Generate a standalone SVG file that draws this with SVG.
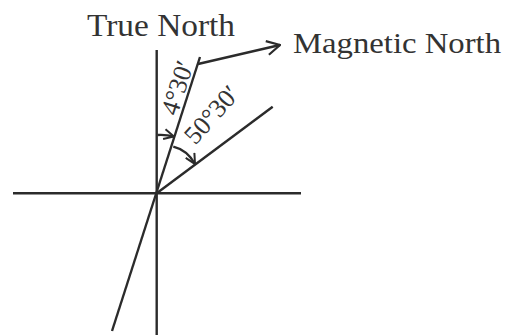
<svg xmlns="http://www.w3.org/2000/svg" width="507" height="335" viewBox="0 0 507 335">
<defs>
<style>
.ln{stroke:#2b2b2b;stroke-width:2.4;fill:none;stroke-linecap:butt}
.lbl{font-family:"Liberation Serif","DejaVu Serif",serif;fill:#333}
</style>
<marker id="arr" viewBox="0 0 12 12" refX="11" refY="6" markerWidth="12" markerHeight="12" markerUnits="userSpaceOnUse" orient="auto">
<path d="M1,1 L11,6 L1,11" fill="none" stroke="#2b2b2b" stroke-width="2"/>
</marker>
<marker id="arrL" viewBox="0 0 16 16" refX="15" refY="8" markerWidth="16" markerHeight="16" markerUnits="userSpaceOnUse" orient="auto">
<path d="M2,1 L15,8 L2,15" fill="none" stroke="#2b2b2b" stroke-width="2.2"/>
</marker>
</defs>
<rect width="507" height="335" fill="#fff"/>
<g id="connectors">
<line class="ln" x1="13" y1="193.3" x2="301" y2="193.3"/>
<line class="ln" x1="156.7" y1="50" x2="156.7" y2="335"/>
<line class="ln" x1="112" y1="331" x2="200" y2="57"/>
<line class="ln" x1="156.7" y1="193.3" x2="272.7" y2="106.7"/>
<line class="ln" x1="198" y1="64" x2="280" y2="45" marker-end="url(#arrL)"/>
<path class="ln" d="M157.5,135 Q166,134.5 174,136.5" marker-end="url(#arr)"/>
<path class="ln" d="M173.3,146.7 Q187,150 195,164" marker-end="url(#arr)"/>
</g>
<g id="true-north"><text class="lbl" x="87" y="36" font-size="31" textLength="148" lengthAdjust="spacingAndGlyphs">True North</text></g>
<g id="magnetic-north"><text class="lbl" x="293" y="53" font-size="30" textLength="208" lengthAdjust="spacingAndGlyphs">Magnetic North</text></g>
<g id="angle-4-30"><text class="lbl" font-size="26" text-anchor="middle" transform="translate(185.5,90.5) rotate(-72)">4°30′</text></g>
<g id="angle-50-30"><text class="lbl" font-size="26" text-anchor="middle" transform="translate(218,120.5) rotate(-48)">50°30′</text></g>
</svg>
